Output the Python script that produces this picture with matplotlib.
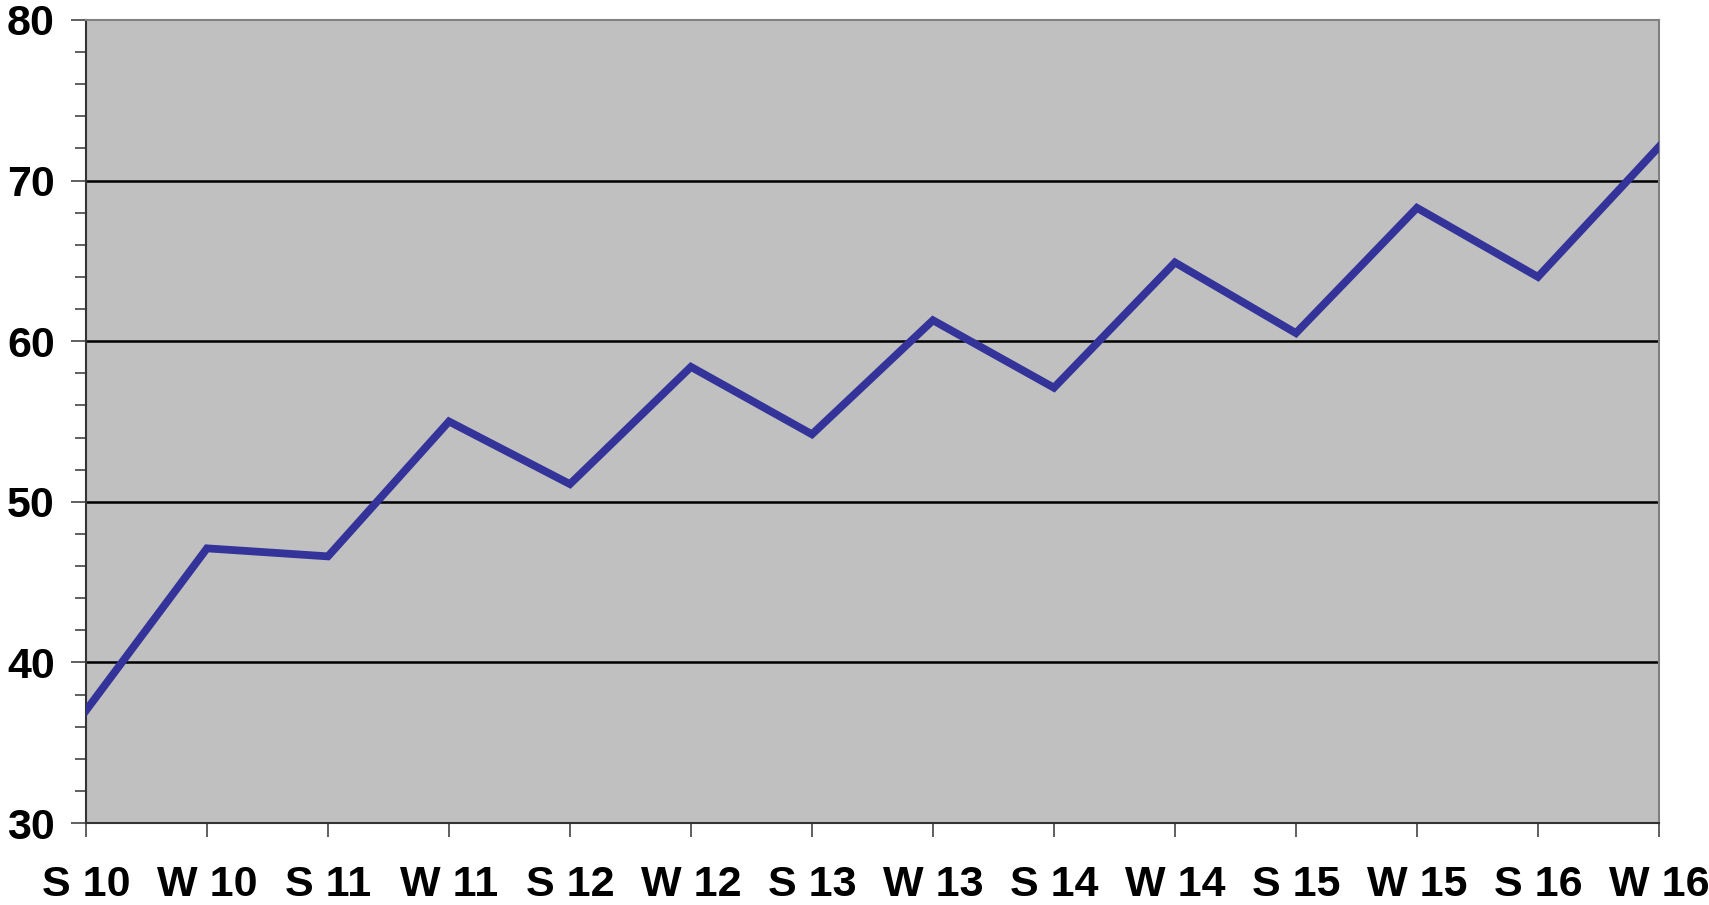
import matplotlib.pyplot as plt
from matplotlib.ticker import MultipleLocator

periods = ['S 10', 'W 10', 'S 11', 'W 11', 'S 12', 'W 12', 'S 13',
           'W 13', 'S 14', 'W 14', 'S 15', 'W 15', 'S 16', 'W 16']
values = [37.0, 47.1, 46.6, 55.0, 51.1, 58.4, 54.2,
          61.3, 57.1, 64.9, 60.5, 68.3, 64.0, 72.1]

plt.rcParams['font.family'] = ['Liberation Sans', 'DejaVu Sans']

fig = plt.figure(figsize=(17.09, 9.05), dpi=100)
ax = fig.add_axes([0.0503, 0.0906, 0.9204, 0.8874])
ax.set_facecolor('#c0c0c0')

x = range(len(periods))
ax.plot(x, values, color='#333399', linewidth=5.6, solid_joinstyle='miter', zorder=3)

ax.set_xlim(0, len(periods) - 1)
ax.set_ylim(30, 80)
ax.yaxis.set_major_locator(MultipleLocator(10))
ax.yaxis.set_minor_locator(MultipleLocator(2))
ax.set_xticks(list(x))
ax.set_xticklabels(periods)

for y in [40, 50, 60, 70]:
    ax.axhline(y, color='black', linewidth=1.8, zorder=2)

ax.tick_params(axis='y', which='major', direction='out', length=10.5, width=1.2,
               pad=12, labelsize=31, colors='#444444', labelcolor='black')
ax.tick_params(axis='y', which='minor', direction='out', length=8, width=1.2,
               colors='#444444')
ax.tick_params(axis='x', direction='out', length=10, width=1.2, pad=20,
               labelsize=31, colors='#444444', labelcolor='black')
for lab in ax.get_xticklabels() + ax.get_yticklabels():
    lab.set_fontweight('bold')

ax.spines['left'].set_color('#333333')
ax.spines['bottom'].set_color('#333333')
ax.spines['top'].set_color('#808080')
ax.spines['right'].set_color('#808080')
for s in ax.spines.values():
    s.set_linewidth(1.5)

fig.savefig('out.png', dpi=100)
